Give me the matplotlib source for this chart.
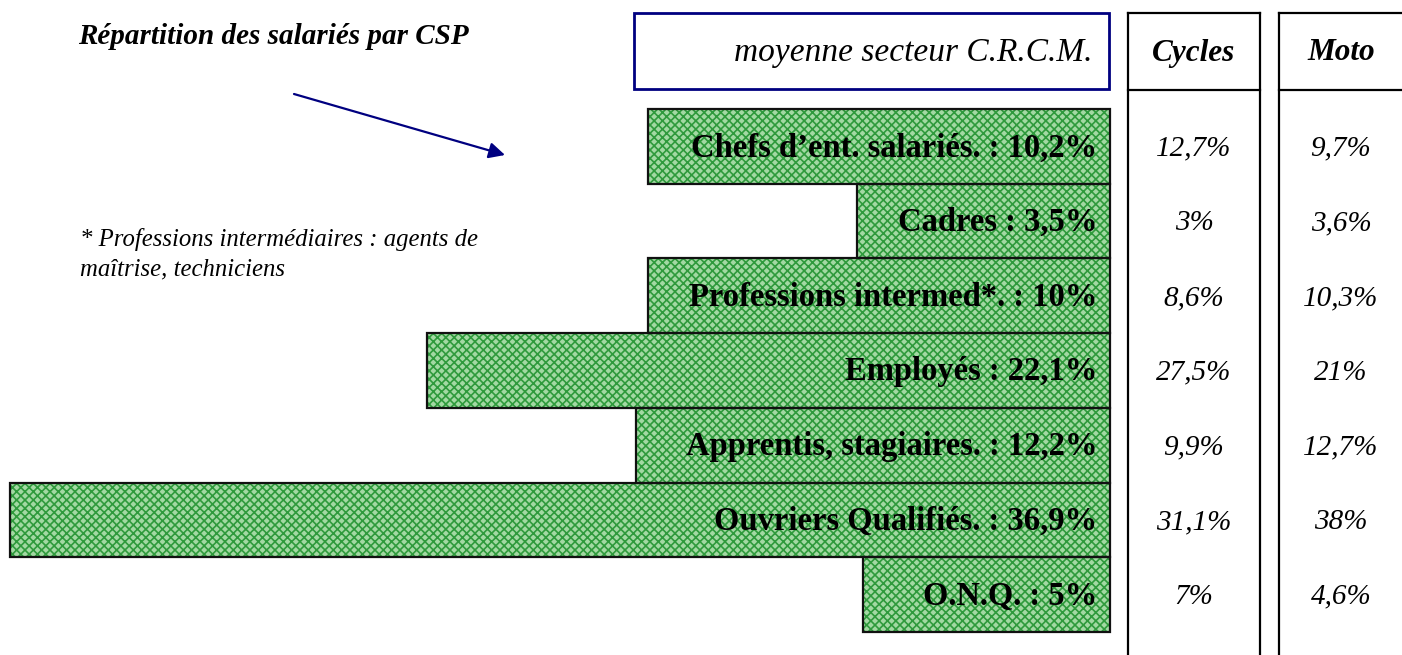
import matplotlib
matplotlib.use("Agg")
import matplotlib.pyplot as plt
from matplotlib.patches import Rectangle
from matplotlib.transforms import blended_transform_factory

# données (moyenne secteur C.R.C.M., Cycles, Moto)
categories = ["Chefs d\u2019ent. salariés.", "Cadres", "Professions intermed*.",
              "Employés", "Apprentis, stagiaires.", "Ouvriers Qualifiés.", "O.N.Q."]
crcm = ["10,2%", "3,5%", "10%", "22,1%", "12,2%", "36,9%", "5%"]
cycles = ["12,7%", "3%", "8,6%", "27,5%", "9,9%", "31,1%", "7%"]
moto = ["9,7%", "3,6%", "10,3%", "21%", "12,7%", "38%", "4,6%"]
# longueur des barres telle que dessinee (en % sur l'echelle des Ouvriers)
bar_len = [15.5, 8.5, 15.5, 22.9, 15.9, 36.9, 8.3]

plt.rcParams['font.family'] = ['Liberation Serif', 'DejaVu Serif']
plt.rcParams['hatch.linewidth'] = 1.2

fig = plt.figure(figsize=(14.02, 6.55), dpi=100)

# axe des barres : 0 a droite, barres horizontales vers la gauche
ax = fig.add_axes([0, 0, 1, 1])
ax.set_xlim(37.235, -9.795)
ax.set_ylim(6.809, -1.959)
ax.axis("off")

# calque en pixels pour les cadres et le texte libre
ov = fig.add_axes([0, 0, 1, 1])
ov.set_xlim(0, 1402)
ov.set_ylim(655, 0)
ov.axis("off")
ov.patch.set_alpha(0)

rows = list(range(len(categories)))
ax.barh(rows, bar_len, height=1.0, color="#a3d9a3", edgecolor="#2f9a3c",
        hatch="xxxx", linewidth=0)
ax.barh(rows, bar_len, height=1.0, fill=False, edgecolor="#111111", linewidth=1.6)

mixed = blended_transform_factory(ov.transData, ax.transData)
for i in rows:
    ax.text(1097, i + 0.02, f"{categories[i]} : {crcm[i]}", transform=mixed,
            ha="right", va="center", fontsize=23.5, fontweight="bold")
    ax.text(1194, i + 0.03, cycles[i], transform=mixed, ha="center", va="center",
            fontsize=21, fontstyle="italic")
    ax.text(1341, i + 0.03, moto[i], transform=mixed, ha="center", va="center",
            fontsize=21, fontstyle="italic")

# cadre "moyenne secteur"
ov.add_patch(Rectangle((634, 13), 475, 76, fill=False, edgecolor="#000080", linewidth=2))
ov.text(1092, 53, "moyenne secteur C.R.C.M.", ha="right", va="center",
        fontsize=24, fontstyle="italic")

# colonnes Cycles / Moto
for x0, x1, xc, name in [(1128, 1260, 1194, "Cycles"), (1279, 1410, 1341, "Moto")]:
    ov.plot([x0, x0], [13, 655], color="black", lw=1.6)
    ov.plot([x1, x1], [13, 655], color="black", lw=1.6)
    ov.plot([x0, x1], [13, 13], color="black", lw=1.6)
    ov.plot([x0, x1], [90, 90], color="black", lw=1.6)
    ov.text(xc, 53, name, ha="center", va="center", fontsize=22.5,
            fontweight="bold", fontstyle="italic")

# titre, fleche et note
ov.text(78, 36, "Répartition des salariés par CSP", ha="left", va="center",
        fontsize=21, fontweight="bold", fontstyle="italic")
ov.annotate("", xy=(505, 155), xytext=(294, 94),
            arrowprops=dict(arrowstyle="-|>", color="#000080", lw=1.6,
                            mutation_scale=24, shrinkA=0, shrinkB=0))
ov.text(80, 254, "* Professions intermédiaires : agents de\nmaîtrise, techniciens",
        ha="left", va="center", fontsize=17.8, fontstyle="italic", linespacing=1.45)

fig.savefig("out.png", dpi=100)
